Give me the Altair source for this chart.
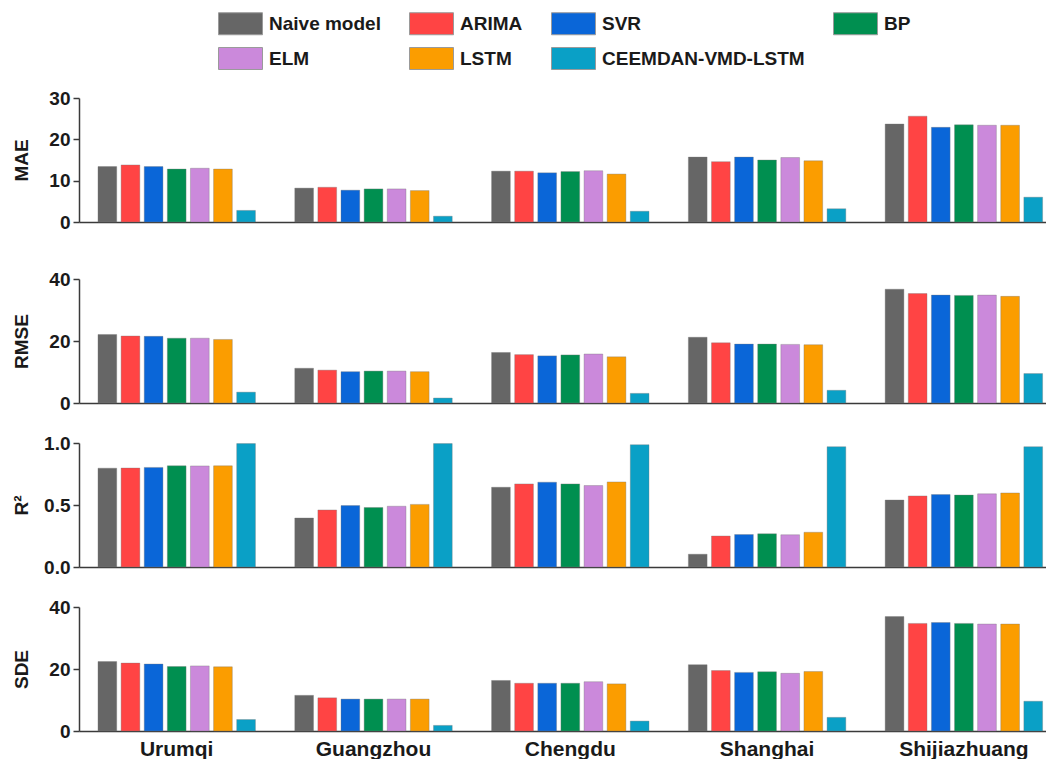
import altair as alt
import pandas as pd

cities = ["Urumqi", "Guangzhou", "Chengdu", "Shanghai", "Shijiazhuang"]
models = ["Naive model", "ARIMA", "SVR", "BP", "ELM", "LSTM", "CEEMDAN-VMD-LSTM"]
colors = ["#666666", "#FF4444", "#0A66D8", "#008F50", "#CB89DB", "#FB9D00", "#0AA0C6"]

# values per city, in model order
mae_urumqi = [13.4, 13.8, 13.4, 12.8, 13.0, 12.8, 2.8]
mae_guangzhou = [8.2, 8.4, 7.7, 8.0, 8.0, 7.6, 1.4]
mae_chengdu = [12.3, 12.3, 11.9, 12.2, 12.4, 11.6, 2.6]
mae_shanghai = [15.7, 14.6, 15.7, 15.0, 15.6, 14.8, 3.2]
mae_shijiazhuang = [23.7, 25.6, 22.9, 23.5, 23.4, 23.4, 6.0]

rmse_urumqi = [22.1, 21.6, 21.5, 20.9, 20.9, 20.5, 3.5]
rmse_guangzhou = [11.2, 10.6, 10.1, 10.3, 10.3, 10.1, 1.6]
rmse_chengdu = [16.3, 15.6, 15.2, 15.5, 15.8, 14.9, 3.1]
rmse_shanghai = [21.2, 19.4, 19.0, 19.0, 18.9, 18.8, 4.1]
rmse_shijiazhuang = [36.7, 35.3, 34.8, 34.7, 34.8, 34.4, 9.5]

r2_urumqi = [0.797, 0.798, 0.803, 0.816, 0.815, 0.816, 0.995]
r2_guangzhou = [0.395, 0.46, 0.495, 0.48, 0.49, 0.505, 0.995]
r2_chengdu = [0.643, 0.67, 0.684, 0.67, 0.657, 0.686, 0.986]
r2_shanghai = [0.103, 0.25, 0.262, 0.268, 0.26, 0.28, 0.97]
r2_shijiazhuang = [0.54, 0.573, 0.584, 0.58, 0.59, 0.597, 0.97]

sde_urumqi = [22.4, 21.9, 21.6, 20.8, 21.0, 20.7, 3.7]
sde_guangzhou = [11.5, 10.7, 10.3, 10.3, 10.3, 10.3, 1.8]
sde_chengdu = [16.3, 15.4, 15.4, 15.4, 15.9, 15.2, 3.2]
sde_shanghai = [21.4, 19.5, 18.9, 19.1, 18.6, 19.2, 4.4]
sde_shijiazhuang = [36.9, 34.7, 35.0, 34.7, 34.5, 34.5, 9.6]

metric_data = {
    "MAE": [mae_urumqi, mae_guangzhou, mae_chengdu, mae_shanghai, mae_shijiazhuang],
    "RMSE": [rmse_urumqi, rmse_guangzhou, rmse_chengdu, rmse_shanghai, rmse_shijiazhuang],
    "R2": [r2_urumqi, r2_guangzhou, r2_chengdu, r2_shanghai, r2_shijiazhuang],
    "SDE": [sde_urumqi, sde_guangzhou, sde_chengdu, sde_shanghai, sde_shijiazhuang],
}

rows = []
for metric, per_city in metric_data.items():
    for city, vals in zip(cities, per_city):
        for model, v in zip(models, vals):
            rows.append({"metric": metric, "city": city, "model": model, "value": v})
df = pd.DataFrame(rows)

FONT = "Liberation Sans"
AX = "#3a3a3a"
W, H = 967, 124

legend = alt.Legend(
    title=None, orient="none", legendX=150, legendY=-86,
    columns=4, direction="horizontal", gridAlign="each",
    symbolType="M-2,-1H2V1H-2Z", symbolSize=484,
    symbolStrokeColor="#9a9a9a", symbolStrokeWidth=1, symbolOpacity=1,
    labelFont=FONT, labelFontSize=19, labelFontWeight="bold", labelColor="#1a1a1a",
    labelOffset=17, columnPadding=26, rowPadding=8, labelLimit=400,
)


def panel(metric, title, domain, ticks, fmt, bottom):
    xaxis = alt.Axis(
        title=None, labels=bottom, ticks=False, domain=True,
        domainColor=AX, domainWidth=1.5,
        labelFont=FONT, labelFontSize=21, labelFontWeight="bold",
        labelColor="#1a1a1a", labelPadding=7, labelAngle=0,
    )
    yaxis = alt.Axis(
        title=title, values=ticks, format=fmt, grid=False,
        domainColor=AX, domainWidth=1.5, tickColor=AX, tickWidth=1.5, tickSize=6,
        labelFont=FONT, labelFontSize=19, labelFontWeight="bold", labelColor="#1a1a1a",
        labelPadding=3,
        titleFont=FONT, titleFontSize=19, titleFontWeight="bold", titleColor="#1a1a1a",
        titleX=-48, titleY=H / 2, titleAngle=-90, titleAlign="center", titleBaseline="bottom",
    )
    return (
        alt.Chart(df)
        .transform_filter(alt.datum.metric == metric)
        .mark_bar(stroke="#777777", strokeWidth=0.6, strokeOpacity=0.6)
        .encode(
            x=alt.X("city:N", sort=cities, axis=xaxis,
                    scale=alt.Scale(paddingInner=0.2, paddingOuter=0.0569, align=0.848)),
            xOffset=alt.XOffset("model:N", sort=models,
                                scale=alt.Scale(paddingInner=0.19, paddingOuter=0)),
            y=alt.Y("value:Q", axis=yaxis,
                    scale=alt.Scale(domain=domain, nice=False, zero=True)),
            color=alt.Color("model:N", sort=models,
                            scale=alt.Scale(domain=models, range=colors), legend=legend),
        )
        .properties(width=W, height=H)
    )


p1 = panel("MAE", "MAE", [0, 30], [0, 10, 20, 30], "d", False)
p2 = panel("RMSE", "RMSE", [0, 40], [0, 20, 40], "d", False)
p3 = panel("R2", "R²", [0, 1], [0, 0.5, 1.0], ".1f", False)
p4 = panel("SDE", "SDE", [0, 40], [0, 20, 40], "d", True)

chart = (
    alt.vconcat(
        p1,
        alt.vconcat(p2, p3, p4, spacing=40, bounds="flush"),
        spacing=57, bounds="flush",
    )
    .properties(padding={"left": 4, "right": 0, "top": 4, "bottom": 0})
    .configure(font=FONT)
    .configure_view(stroke=None)
)

chart.save("out.html", embed_options={"renderer": "svg", "actions": False})
